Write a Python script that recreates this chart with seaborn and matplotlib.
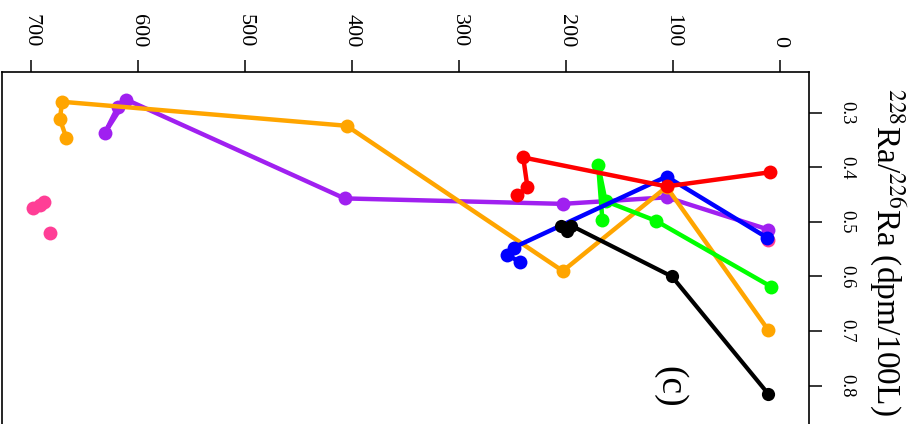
import matplotlib
matplotlib.use("Agg")
import matplotlib.pyplot as plt
import seaborn as sns
import pandas as pd

# Depth (m) and 228Ra/226Ra activity ratio for each station profile
depth_pink = [11, 688, 692, 698, 682]
ratio_pink = [0.533, 0.464, 0.469, 0.475, 0.520]

depth_purple = [11, 106, 203, 407, 611, 631, 619]
ratio_purple = [0.514, 0.455, 0.467, 0.457, 0.276, 0.337, 0.290]

depth_orange = [11, 106, 203, 405, 671, 673, 667]
ratio_orange = [0.698, 0.436, 0.590, 0.324, 0.280, 0.312, 0.346]

depth_green = [8, 116, 163, 170, 166]
ratio_green = [0.619, 0.498, 0.462, 0.395, 0.497]

depth_blue = [12, 106, 249, 255, 243]
ratio_blue = [0.529, 0.417, 0.547, 0.561, 0.573]

depth_black = [11, 101, 195, 205, 199]
ratio_black = [0.815, 0.600, 0.507, 0.507, 0.516]

depth_red = [9, 106, 240, 236, 246]
ratio_red = [0.409, 0.435, 0.382, 0.437, 0.450]

depth_ticks = [700, 600, 500, 400, 300, 200, 100, 0]
ratio_ticks = [0.3, 0.4, 0.5, 0.6, 0.7, 0.8]

sns.set_theme(style="ticks")
plt.rcParams["font.family"] = ["Liberation Serif", "DejaVu Serif"]
plt.rcParams["mathtext.fontset"] = "stix"

W, H = 911, 424
fig = plt.figure(figsize=(W / 100, H / 100), dpi=100)
fig.patch.set_facecolor("white")

# axes box in pixels: left 1.5, right 809, top 72, bottom beyond the figure
left_px, right_px, top_px, bottom_px = 1.5, 809, 72, 440.3
ax = fig.add_axes([left_px / W, (H - bottom_px) / H,
                   (right_px - left_px) / W, (bottom_px - top_px) / H])
ax.set_facecolor("white")

profiles = [
    ("#A020F0", depth_purple, ratio_purple, 3.2, 10),
    ("#FFA500", depth_orange, ratio_orange, 3.2, 10),
    ("#00FF00", depth_green, ratio_green, 3.2, 10),
    ("#0000FF", depth_blue, ratio_blue, 3.2, 10),
    ("#000000", depth_black, ratio_black, 3.0, 9.5),
    ("#FF0000", depth_red, ratio_red, 3.2, 10),
]

pink = pd.DataFrame({"depth": depth_pink, "ratio": ratio_pink})
sns.scatterplot(data=pink, x="depth", y="ratio", color="#FF3E96", s=100,
                linewidth=0, ax=ax, zorder=2)

for i, (col, d, r, lw, ms) in enumerate(profiles):
    df = pd.DataFrame({"depth": d, "ratio": r})
    sns.lineplot(data=df, x="depth", y="ratio", sort=False, estimator=None,
                 color=col, linewidth=lw, marker="o", markersize=ms,
                 markeredgewidth=0, ax=ax, zorder=3 + i)

ax.set_xlim(727.6, -27.1)
ax.set_ylim(0.9, 0.2255)

ax.xaxis.tick_top()
ax.yaxis.tick_right()
ax.set_xticks(depth_ticks)
ax.set_xticklabels([str(t) for t in depth_ticks], rotation=-90, fontsize=16)
ax.set_yticks(ratio_ticks)
ax.set_yticklabels([f"{t:.1f}" for t in ratio_ticks], rotation=-90,
                   fontsize=13.5, va="center")
ax.tick_params(axis="x", direction="out", length=9, width=1.1, pad=9,
               colors="black")
ax.tick_params(axis="y", direction="out", length=9, width=1.1, pad=12,
               colors="black")

ax.set_xlabel("")
ax.set_ylabel("")
for side in ["left", "top", "right"]:
    ax.spines[side].set_color("black")
    ax.spines[side].set_linewidth(1.2)
ax.spines["bottom"].set_visible(False)
ax.grid(False)

fig.text(887 / W, 1 - 252 / H, r"$^{228}$Ra/$^{226}$Ra (dpm/100L)",
         rotation=-90, ha="center", va="center", fontsize=24, color="black")
fig.text(670 / W, 1 - 387 / H, "(c)", rotation=-90, ha="center",
         va="center", fontsize=27, color="black")

fig.savefig("out.png", dpi=100, facecolor="white")
